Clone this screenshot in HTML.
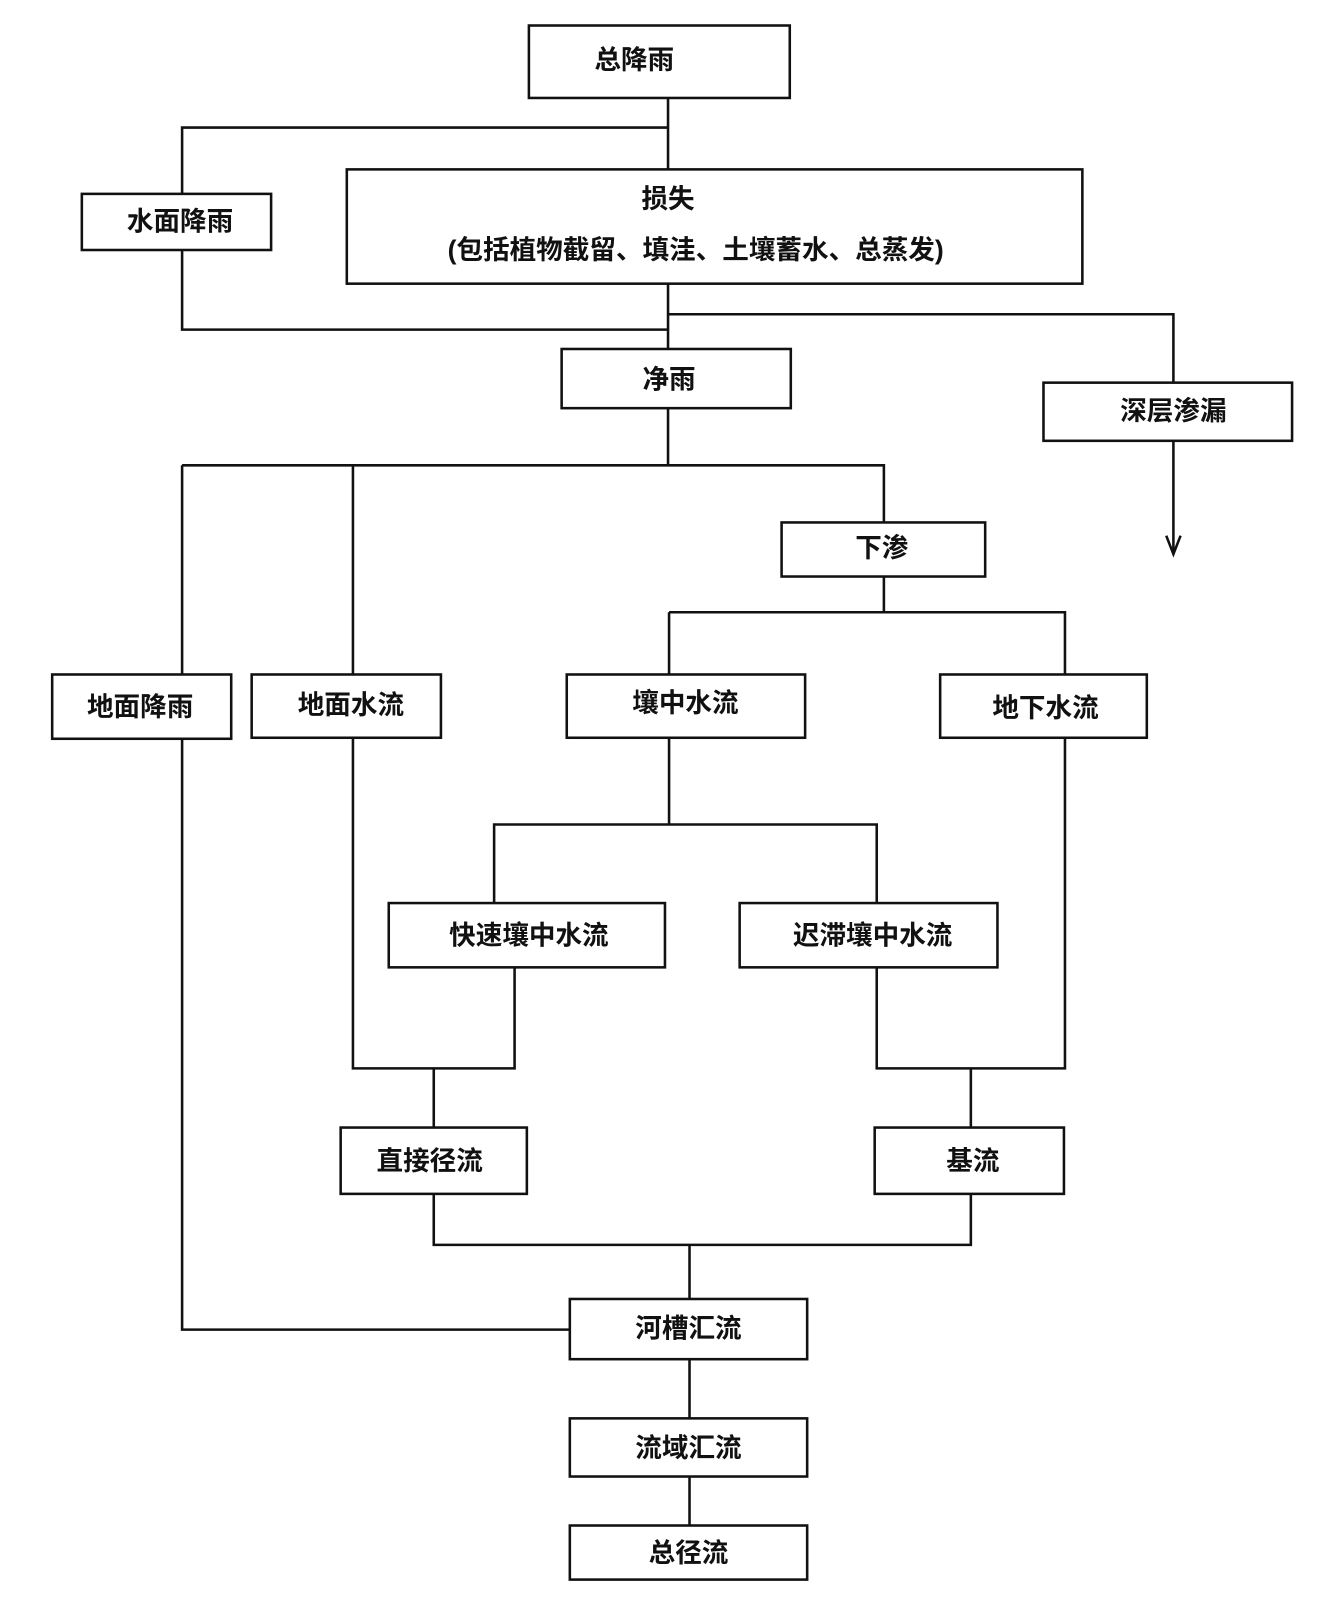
<!DOCTYPE html>
<html><head><meta charset="utf-8"><style>
html,body{margin:0;padding:0;background:#fff;}
svg{display:block;}
text{font-family:"Liberation Sans","Noto Sans CJK SC",sans-serif;font-size:26px;font-weight:bold;fill:#111;text-anchor:middle;dominant-baseline:central;}
</style></head><body>
<svg width="1333" height="1600" viewBox="0 0 1303 1568" preserveAspectRatio="none" xmlns="http://www.w3.org/2000/svg">
<g fill="none" stroke="#111" stroke-width="2.5">
<rect x="517" y="25" width="255" height="71"/>
<rect x="80" y="190" width="185" height="55"/>
<rect x="339" y="166" width="719" height="112"/>
<rect x="1020" y="375" width="243" height="57"/>
<rect x="549" y="342" width="224" height="58"/>
<rect x="764" y="512" width="199" height="53"/>
<rect x="51" y="661" width="175" height="63"/>
<rect x="246" y="661" width="185" height="62"/>
<rect x="554" y="661" width="233" height="62"/>
<rect x="919" y="661" width="202" height="62"/>
<rect x="380" y="885" width="270" height="63"/>
<rect x="723" y="885" width="252" height="63"/>
<rect x="333" y="1105" width="182" height="65"/>
<rect x="855" y="1105" width="185" height="65"/>
<rect x="557" y="1273" width="232" height="59"/>
<rect x="557" y="1390" width="232" height="57"/>
<rect x="557" y="1495" width="232" height="53"/>
<path d="M653 96V166M178 190V125H653M178 245V323H653M653 278V342M653 308H1147V375M1147 432V540"/>
<path d="M653 400V456M178 456H864V512M178 456V661M345 456V661M864 565V600M654 600H1041V661M654 600V661"/>
<path d="M654 723V808M483 885V808H857V885"/>
<path d="M345 723V1047H503V948M424 1047V1105M857 948V1047H1041V723M949 1047V1105"/>
<path d="M424 1170V1220H949V1170M674 1220V1273M178 724V1303H557M674 1332V1390M674 1447V1495"/>
<path d="M1140 525L1147 543L1154 525"/>
</g>
<text x="620" y="59">总降雨</text>
<text x="176" y="217">水面降雨</text>
<text x="653" y="195">损失</text>
<text x="680" y="245">(包括植物截留、填洼、土壤蓄水、总蒸发)</text>
<text x="1147" y="403">深层渗漏</text>
<text x="654" y="372">净雨</text>
<text x="862" y="537">下渗</text>
<text x="137" y="693">地面降雨</text>
<text x="343" y="691">地面水流</text>
<text x="670" y="689">壤中水流</text>
<text x="1022" y="694">地下水流</text>
<text x="517" y="917">快速壤中水流</text>
<text x="853" y="917">迟滞壤中水流</text>
<text x="420" y="1138">直接径流</text>
<text x="951" y="1138">基流</text>
<text x="673" y="1302">河槽汇流</text>
<text x="673" y="1419">流域汇流</text>
<text x="673" y="1522">总径流</text>
</svg>
</body></html>
